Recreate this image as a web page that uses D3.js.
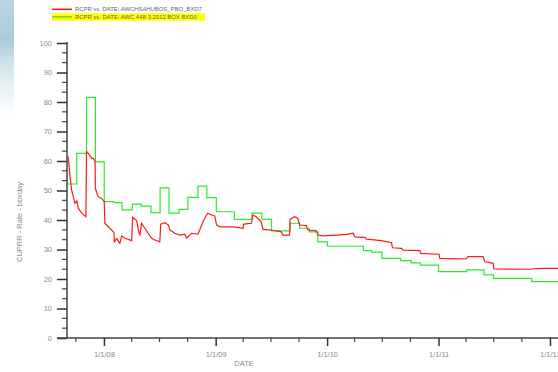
<!DOCTYPE html>
<html><head><meta charset="utf-8">
<script src="https://cdn.jsdelivr.net/npm/d3@7"></script>
<style>
html,body{margin:0;padding:0;background:#fff;overflow:hidden;}
text{font-family:"Liberation Sans",Arial,sans-serif;fill:#555;}
</style></head>
<body>
<script>
// ---- data ----
const redDates = ["2007-09-06","2007-09-12","2007-09-17","2007-09-28","2007-10-04","2007-10-09","2007-10-20","2007-11-03","2007-11-05","2007-11-11","2007-11-22","2007-11-27","2007-12-03","2007-12-04","2007-12-13","2007-12-24","2008-01-02","2008-01-04","2008-01-26","2008-02-03","2008-02-04","2008-02-12","2008-02-22","2008-02-28","2008-03-10","2008-04-01","2008-04-04","2008-04-17","2008-04-25","2008-04-28","2008-05-03","2008-05-14","2008-06-05","2008-06-16","2008-07-02","2008-07-05","2008-07-19","2008-07-30","2008-08-04","2008-08-20","2008-09-06","2008-09-22","2008-09-28","2008-10-14","2008-11-04","2008-11-23","2008-12-06","2008-12-19","2008-12-29","2009-01-04","2009-01-15","2009-02-27","2009-04-01","2009-04-03","2009-04-28","2009-05-03","2009-05-14","2009-05-30","2009-06-05","2009-07-02","2009-08-04","2009-08-09","2009-08-31","2009-09-02","2009-09-16","2009-09-27","2009-10-03","2009-10-25","2009-10-30","2009-11-26","2009-12-02","2009-12-18","2010-02-01","2010-03-06","2010-03-27","2010-04-02","2010-05-05","2010-05-10","2010-06-28","2010-07-31","2010-08-03","2010-09-02","2010-09-07","2010-11-01","2010-11-03","2011-01-03","2011-01-05","2011-03-01","2011-04-02","2011-04-08","2011-05-27","2011-06-01","2011-06-29","2011-07-01","2011-10-27","2011-12-04","2012-02-15"];
const redValues = [61.5,54.7,50.2,45.7,46.5,44,42.3,41.1,63.2,62.6,60.9,60.9,59.8,50.7,47.9,47.3,46.2,38.9,36.6,35.7,32.6,33.7,32.1,34.6,33.8,33,40.9,39.8,35.5,35,38.9,37.2,33.8,33.2,32.6,38.6,39.1,38.3,36.6,35.5,34.9,35.2,33.8,35.5,35.2,40,42.3,41.7,41.4,38.3,37.7,37.7,37.2,38.6,38.9,41.7,41.1,39.4,36.8,36.6,36,34.9,34.9,40.2,41.1,40.6,38.3,38.1,36.6,36.4,34.9,34.6,34.9,35.1,35.5,34.3,34.1,33.5,33,32.3,30.6,30.4,29.8,29.6,28.7,28.4,27,26.8,26.9,27.6,27.6,25.9,25.3,23.4,23.3,23.6,23.6];

const greenDates = ["2007-09-06","2007-10-04","2007-11-05","2007-12-04","2008-01-02","2008-02-03","2008-02-29","2008-04-03","2008-05-02","2008-06-03","2008-07-03","2008-08-01","2008-09-03","2008-10-02","2008-11-04","2008-12-03","2009-01-03","2009-03-03","2009-04-30","2009-06-01","2009-07-03","2009-09-02","2009-10-03","2009-11-04","2009-12-02","2010-01-02","2010-04-30","2010-05-27","2010-06-30","2010-08-30","2010-10-03","2010-11-02","2011-01-01","2011-04-03","2011-05-30","2011-06-30","2011-11-02","2012-02-15"];
const greenValues = [52.2,62.6,81.6,59.7,46.2,45.9,43.4,45.4,44.7,42.5,50.9,42.3,43.6,47.7,51.5,47.6,42.8,40.2,42.3,40.2,36.3,38.9,37.2,36,32.6,31.1,29.6,29.1,27,26.2,25.5,24.7,22.5,23.1,21.4,20.2,19.1,19.1];

const yTicks = [0,10,20,30,40,50,60,70,80,90,100];
const xTickYears = ["2008-01-01","2009-01-01","2010-01-01","2011-01-01","2012-01-01"];
const xTickLabels = ["1/1/08","1/1/09","1/1/10","1/1/11","1/1/12"];
const legendLabels = ["RCPR vs. DATE: AWCHSAHUBOS_PBO_BXD7","RCPR vs. DATE: AWC 448-3,2012 BOX BXD0"];
const yTitle = "CUPRR - Rate - bbl/day";
const xTitle = "DATE";

// ---- chart ----
const W=558,H=372;
const parse=d3.utcParse("%Y-%m-%d");
const svg=d3.select("body").append("svg").attr("width",W).attr("height",H);

// left background strip (sky picture fragment)
const defs=svg.append("defs");
const g1=defs.append("linearGradient").attr("id","sky").attr("x1",0).attr("y1",0).attr("x2",0).attr("y2",1);
g1.append("stop").attr("offset","0%").attr("stop-color","#b9d6e2");
g1.append("stop").attr("offset","35%").attr("stop-color","#a9cbd9");
g1.append("stop").attr("offset","60%").attr("stop-color","#d8e8ee");
g1.append("stop").attr("offset","100%").attr("stop-color","#ffffff");
svg.append("rect").attr("x",0).attr("y",0).attr("width",14).attr("height",115).attr("fill","url(#sky)");

const x=d3.scaleUtc().domain([parse("2007-09-02"),parse("2012-02-15")]).range([67,563.7]);
const y=d3.scaleLinear().domain([0,100]).range([338,43]);

const tickFont=7.5, tickCol="#8a8a8a";

// y axis
const yAxisG=svg.append("g").attr("transform","translate(67,0)");
yAxisG.call(d3.axisLeft(y).tickValues(yTicks).tickSize(10).tickPadding(5).tickFormat(d3.format("d")));
const yMinor=[];
for(let i=0;i<100;i+=10){yMinor.push(i+10/3,i+20/3);}
yAxisG.selectAll(".minor").data(yMinor).enter().append("line").attr("class","minor")
  .attr("x1",-5).attr("x2",0).attr("y1",d=>y(d)).attr("y2",d=>y(d)).attr("stroke","#444").attr("stroke-width",1.2);
yAxisG.select(".domain").attr("stroke","#444").attr("stroke-width",1.5).attr("d","M0,42V338.5");
yAxisG.selectAll(".tick line").attr("stroke","#333").attr("stroke-width",1.5);
yAxisG.selectAll(".tick text").attr("font-size",tickFont).style("fill",tickCol).attr("font-family","Liberation Sans, sans-serif");

// x axis
const xAxisG=svg.append("g").attr("transform","translate(0,338)");
xAxisG.call(d3.axisBottom(x).tickValues(xTickYears.map(parse)).tickSize(8).tickPadding(6)
  .tickFormat((d,i)=>xTickLabels[i]));
const quarters=d3.utcMonth.every(3).range(parse("2007-09-02"),parse("2012-02-15")).filter(d=>d.getUTCMonth()!==0);
xAxisG.selectAll(".minor").data(quarters).enter().append("line").attr("class","minor")
  .attr("x1",d=>x(d)).attr("x2",d=>x(d)).attr("y1",0).attr("y2",4).attr("stroke","#444").attr("stroke-width",1.2);
xAxisG.select(".domain").attr("stroke","#444").attr("stroke-width",1.5).attr("d","M57,0H558");
xAxisG.selectAll(".tick line").attr("stroke","#333").attr("stroke-width",1.5);
xAxisG.selectAll(".tick text").attr("font-size",tickFont).style("fill",tickCol).attr("font-family","Liberation Sans, sans-serif");

// lines
const redData=redDates.map((d,i)=>({d:parse(d),v:redValues[i]}));
const greenData=greenDates.map((d,i)=>({d:parse(d),v:greenValues[i]}));
const plot=svg.append("g");
plot.append("path").datum(greenData).attr("fill","none").attr("stroke","#2ee82e").attr("stroke-width",1.2)
  .attr("d",d3.line().x(d=>x(d.d)).y(d=>y(d.v)).curve(d3.curveStepAfter));
plot.append("path").datum(redData).attr("fill","none").attr("stroke","#ff1a1a").attr("stroke-width",1.2)
  .attr("d",d3.line().x(d=>x(d.d)).y(d=>y(d.v)));

// titles
svg.append("text").attr("x",244).attr("y",366).attr("text-anchor","middle").attr("font-size",7.5).style("fill",tickCol).text(xTitle);
svg.append("text").attr("transform","translate(22,222) rotate(-90)").attr("text-anchor","middle").attr("font-size",7.5).style("fill",tickCol).text(yTitle);

// legend
const lg=svg.append("g");
lg.append("rect").attr("x",52).attr("y",13.3).attr("width",153).attr("height",7.4).attr("fill","#ffff00");
lg.append("line").attr("x1",52).attr("x2",72).attr("y1",9.3).attr("y2",9.3).attr("stroke","#ff1010").attr("stroke-width",1.5);
lg.append("line").attr("x1",52).attr("x2",72).attr("y1",16.9).attr("y2",16.9).attr("stroke","#66dd22").attr("stroke-width",1.5);
lg.append("text").attr("x",75).attr("y",11.4).attr("font-size",5.9).style("fill","#666").text(legendLabels[0]);
lg.append("text").attr("x",75).attr("y",19.1).attr("font-size",5.9).style("fill","#666").text(legendLabels[1]);
</script>
</body></html>
